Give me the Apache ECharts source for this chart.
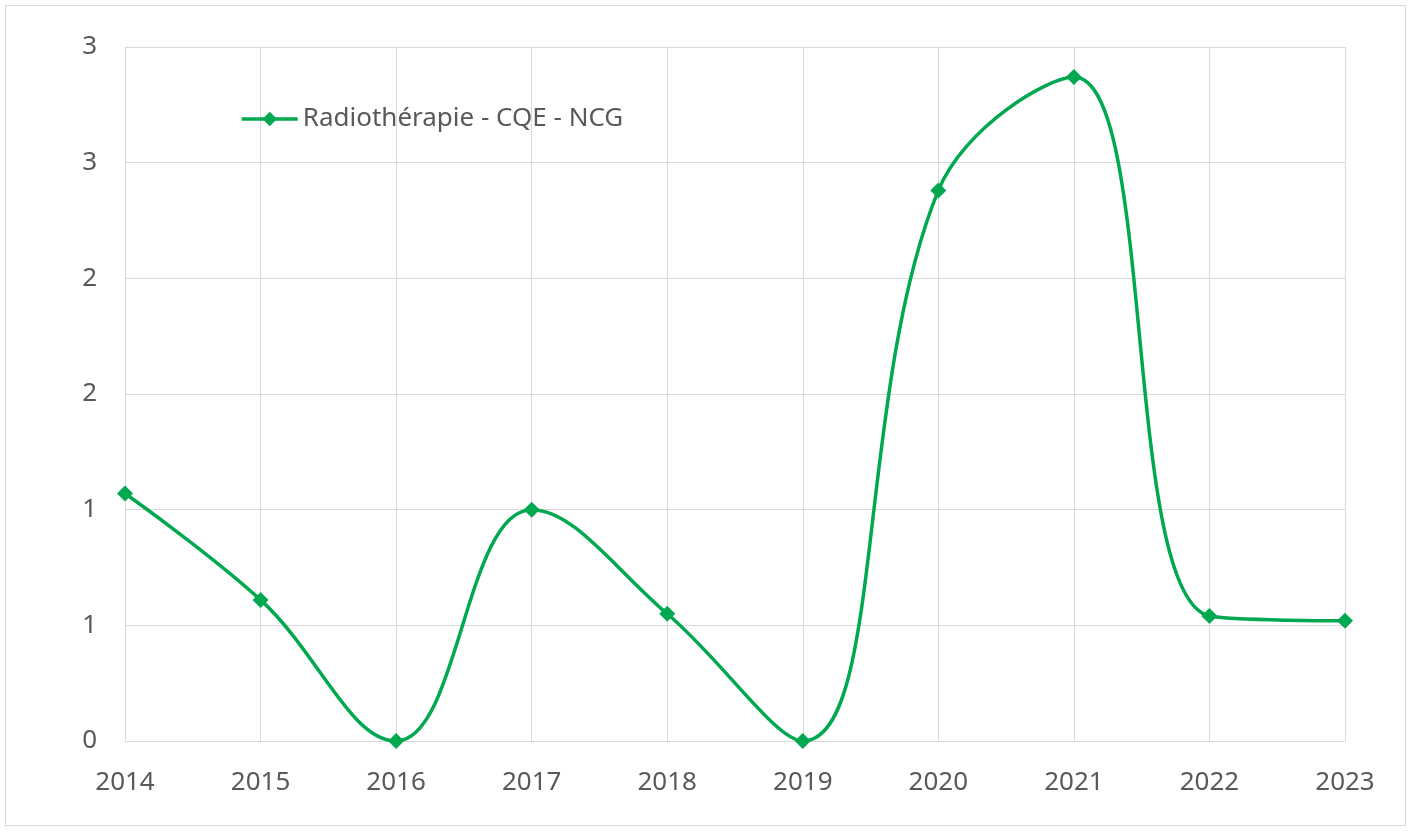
<!DOCTYPE html>
<html>
<head>
<meta charset="utf-8">
<script src="https://cdn.jsdelivr.net/npm/echarts@6/dist/echarts.min.js"></script>
<style>
  html, body { margin: 0; padding: 0; background: #fff; }
  #chart { position: absolute; left: 5px; top: 5px; width: 1401px; height: 821px; border: 1px solid #d9d9d9; box-sizing: border-box; }
</style>
</head>
<body>
<div id="chart"></div>
<script>
const years = ['2014', '2015', '2016', '2017', '2018', '2019', '2020', '2021', '2022', '2023']
const values = [1.07, 0.61, 0, 1.0, 0.55, 0, 2.38, 2.87, 0.54, 0.52]
const seriesName = 'Radiothérapie - CQE - NCG'
const green = '#00a84f'
const textColor = '#595959'

const chart = echarts.init(document.getElementById('chart'))
chart.setOption({
  animation: false,
  grid: { left: 119, right: 60, top: 41, bottom: 84 },
  legend: {
    left: 229,
    top: 95,
    itemWidth: 56,
    itemHeight: 18,
    itemGap: 4,
    lineStyle: { width: 3.5 },
    textStyle: { fontFamily: 'Noto Sans', fontSize: 26, color: textColor },
    data: [seriesName]
  },
  xAxis: {
    type: 'category',
    data: years,
    boundaryGap: false,
    axisLine: { lineStyle: { color: '#d9d9d9', width: 1 } },
    axisTick: { show: false },
    splitLine: { show: true, lineStyle: { color: '#d9d9d9' } },
    axisLabel: { margin: 29, fontFamily: 'Noto Sans', fontSize: 26, color: textColor }
  },
  yAxis: {
    type: 'value',
    min: 0,
    max: 3,
    interval: 0.5,
    axisLine: { show: true, lineStyle: { color: '#d9d9d9' } },
    axisTick: { show: false },
    splitLine: { lineStyle: { color: '#d9d9d9' } },
    axisLabel: {
      margin: 28,
      fontFamily: 'Noto Sans',
      fontSize: 26,
      color: textColor,
      formatter: v => String(Math.round(v))
    }
  },
  series: [{
    name: seriesName,
    type: 'line',
    data: values,
    smooth: 0.4,
    symbol: 'diamond',
    symbolSize: 16,
    itemStyle: { color: green },
    lineStyle: { color: green, width: 3.5 }
  }]
})
</script>
</body>
</html>
